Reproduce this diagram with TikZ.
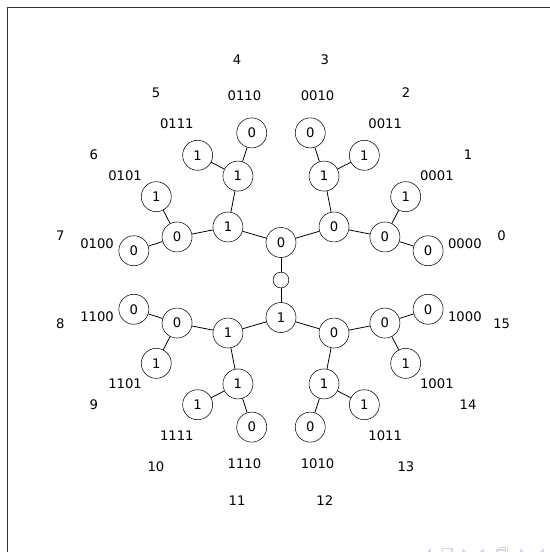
\documentclass[tikz,border=0pt]{standalone}
\usepackage{fontspec}
\setmainfont{DejaVu Sans}
\usepackage{tikz}
\definecolor{framegray}{HTML}{333333}
\definecolor{navblue}{HTML}{D4D4EC}
\tikzset{bit/.style={circle,draw,minimum size=8mm,inner sep=0pt},
  hub/.style={circle,draw,minimum size=4.2mm,inner sep=0pt},
  link/.style={semithick},
  code/.style={inner sep=1pt},
  idx/.style={inner sep=1pt}}

\begin{document}
\begin{tikzpicture}[font=\fontsize{10}{12}\selectfont]
 \useasboundingbox (-7.493,-7.253) rectangle (7.173,7.467);
 \draw[framegray,line width=1.1pt] (-7.293,-7.4) -- (-7.293,7.267) -- (7.3,7.267);
 % centre and first level
 \node[hub] (c) at (0,0) {};
 \node[bit] (n0) at (90:1) {0};
 \node[bit] (n1) at (270:1) {1};
 % second level
 \node[bit] (n00) at (45:2) {0};
 \node[bit] (n01) at (135:2) {1};
 \node[bit] (n11) at (225:2) {1};
 \node[bit] (n10) at (315:2) {0};
 % third level
 \node[bit] (n000) at (22.5:3) {0};
 \node[bit] (n001) at (67.5:3) {1};
 \node[bit] (n011) at (112.5:3) {1};
 \node[bit] (n010) at (157.5:3) {0};
 \node[bit] (n110) at (202.5:3) {0};
 \node[bit] (n111) at (247.5:3) {1};
 \node[bit] (n101) at (292.5:3) {1};
 \node[bit] (n100) at (337.5:3) {0};
 % leaves
 \node[bit] (n0000) at (11.25:4) {0};
 \node[bit] (n0001) at (33.75:4) {1};
 \node[bit] (n0011) at (56.25:4) {1};
 \node[bit] (n0010) at (78.75:4) {0};
 \node[bit] (n0110) at (101.25:4) {0};
 \node[bit] (n0111) at (123.75:4) {1};
 \node[bit] (n0101) at (146.25:4) {1};
 \node[bit] (n0100) at (168.75:4) {0};
 \node[bit] (n1100) at (191.25:4) {0};
 \node[bit] (n1101) at (213.75:4) {1};
 \node[bit] (n1111) at (236.25:4) {1};
 \node[bit] (n1110) at (258.75:4) {0};
 \node[bit] (n1010) at (281.25:4) {0};
 \node[bit] (n1011) at (303.75:4) {1};
 \node[bit] (n1001) at (326.25:4) {1};
 \node[bit] (n1000) at (348.75:4) {0};
 % edges
 \draw[link] (c)--(n0);
 \draw[link] (c)--(n1);
 \draw[link] (n0)--(n00);
 \draw[link] (n0)--(n01);
 \draw[link] (n1)--(n11);
 \draw[link] (n1)--(n10);
 \draw[link] (n00)--(n000);
 \draw[link] (n00)--(n001);
 \draw[link] (n01)--(n011);
 \draw[link] (n01)--(n010);
 \draw[link] (n11)--(n110);
 \draw[link] (n11)--(n111);
 \draw[link] (n10)--(n101);
 \draw[link] (n10)--(n100);
 \draw[link] (n000)--(n0000);
 \draw[link] (n000)--(n0001);
 \draw[link] (n001)--(n0011);
 \draw[link] (n001)--(n0010);
 \draw[link] (n011)--(n0110);
 \draw[link] (n011)--(n0111);
 \draw[link] (n010)--(n0101);
 \draw[link] (n010)--(n0100);
 \draw[link] (n110)--(n1100);
 \draw[link] (n110)--(n1101);
 \draw[link] (n111)--(n1111);
 \draw[link] (n111)--(n1110);
 \draw[link] (n101)--(n1010);
 \draw[link] (n101)--(n1011);
 \draw[link] (n100)--(n1001);
 \draw[link] (n100)--(n1000);
 % codewords
 \node[code] (w0) at (11.25:5) {0000};
 \node[code] (w1) at (33.75:5) {0001};
 \node[code] (w2) at (56.25:5) {0011};
 \node[code] (w3) at (78.75:5) {0010};
 \node[code] (w4) at (101.25:5) {0110};
 \node[code] (w5) at (123.75:5) {0111};
 \node[code] (w6) at (146.25:5) {0101};
 \node[code] (w7) at (168.75:5) {0100};
 \node[code] (w8) at (191.25:5) {1100};
 \node[code] (w9) at (213.75:5) {1101};
 \node[code] (w10) at (236.25:5) {1111};
 \node[code] (w11) at (258.75:5) {1110};
 \node[code] (w12) at (281.25:5) {1010};
 \node[code] (w13) at (303.75:5) {1011};
 \node[code] (w14) at (326.25:5) {1001};
 \node[code] (w15) at (348.75:5) {1000};
 % indices
 \node[idx] (i0) at (11.25:6) {0};
 \node[idx] (i1) at (33.75:6) {1};
 \node[idx] (i2) at (56.25:6) {2};
 \node[idx] (i3) at (78.75:6) {3};
 \node[idx] (i4) at (101.25:6) {4};
 \node[idx] (i5) at (123.75:6) {5};
 \node[idx] (i6) at (146.25:6) {6};
 \node[idx] (i7) at (168.75:6) {7};
 \node[idx] (i8) at (191.25:6) {8};
 \node[idx] (i9) at (213.75:6) {9};
 \node[idx] (i10) at (236.25:6) {10};
 \node[idx] (i11) at (258.75:6) {11};
 \node[idx] (i12) at (281.25:6) {12};
 \node[idx] (i13) at (303.75:6) {13};
 \node[idx] (i14) at (326.25:6) {14};
 \node[idx] (i15) at (348.75:6) {15};
 % navigation symbols, cut off by the page edge
 \fill[navblue] (3.84,-7.30) -- (4.0,-7.16) -- (4.0,-7.44) -- cycle;
 \draw[navblue,line width=0.8pt] (4.30,-7.45) rectangle (4.56,-7.17);
 \fill[navblue] (4.99,-7.30) -- (4.83,-7.16) -- (4.83,-7.44) -- cycle;
 \fill[navblue] (5.25,-7.30) -- (5.41,-7.16) -- (5.41,-7.44) -- cycle;
 \draw[navblue,line width=0.8pt] (5.76,-7.45) rectangle (5.98,-7.20)
   (5.83,-7.20) -- (5.83,-7.13) -- (6.05,-7.13) -- (6.05,-7.40);
 \fill[navblue] (6.53,-7.30) -- (6.37,-7.16) -- (6.37,-7.44) -- cycle;
 \fill[navblue] (6.85,-7.30) -- (7.01,-7.16) -- (7.01,-7.44) -- cycle;
\end{tikzpicture}
\end{document}
